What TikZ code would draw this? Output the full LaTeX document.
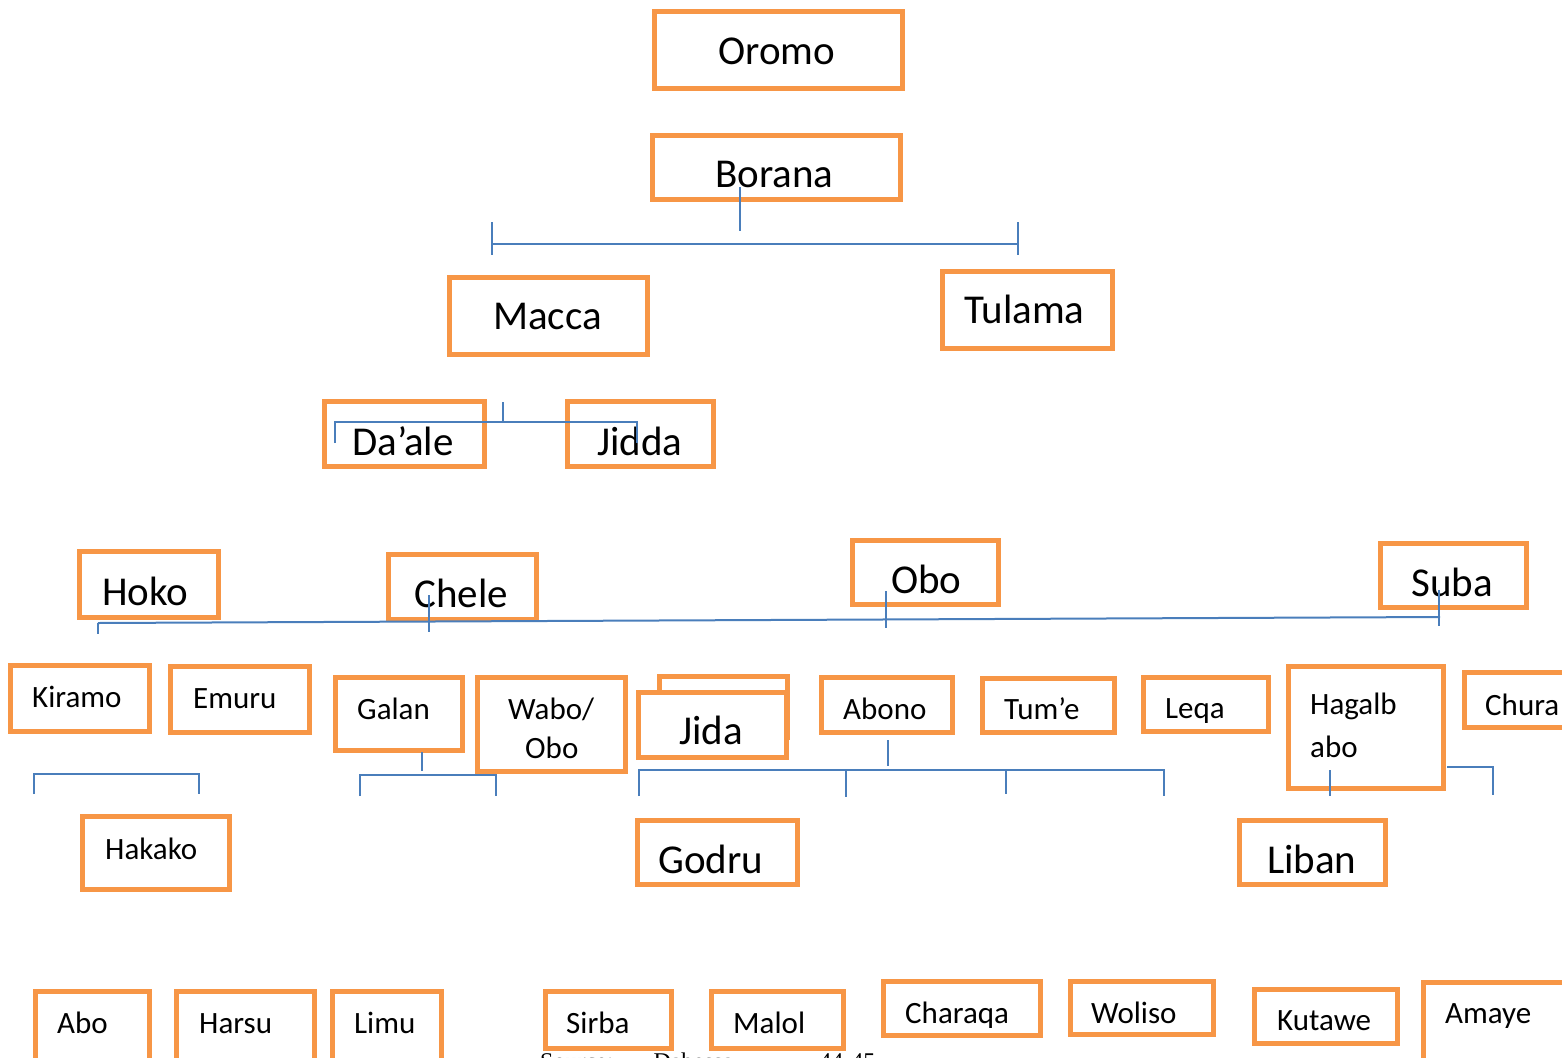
\documentclass[tikz,border=0pt]{standalone}
\usepackage{fontspec}
\setmainfont{Carlito}
\newfontfamily\srcfont{Liberation Serif}
\definecolor{boxor}{HTML}{F79646}
\definecolor{lnblue}{HTML}{4A7EBB}
\tikzset{
  bx/.style={draw=boxor, line width=5pt, inner sep=0pt, outer sep=0pt},
  big/.style={font=\fontsize{41}{49}\selectfont, anchor=base west, inner sep=0pt},
  small/.style={font=\fontsize{31}{37}\selectfont, anchor=base west, inner sep=0pt},
  ln/.style={draw=lnblue, line width=2pt},
}
\newcommand\bxn[6][]{\node[bx, #1, minimum width={#5-#3-5}, minimum height={#6-#4-5}] (#2) at ({(#3+#5)/2},{(#4+#6)/2}) {};}
\newcommand\txt[5]{\node[#1] (#2) at (#3,#4) {#5};}
\begin{document}
\begin{tikzpicture}[x=1pt,y=-1pt]
\useasboundingbox (0,0) rectangle (1562,1057);
\clip (0,0) rectangle (1562,1057);
% boxes
\bxn{oromo}{652}{9}{905}{91}
\bxn{borana}{650}{133}{903}{202}
\bxn{macca}{447}{275}{650}{357}
\bxn{tulama}{940}{269}{1115}{351}
\bxn{daale}{322}{399}{487}{469}
\bxn{jidda}{565}{399}{716}{469}
\bxn{hoko}{77}{549}{221}{620}
\bxn{chele}{386}{552}{539}{622}
\bxn{obo}{850}{538}{1001}{607}
\bxn{suba}{1378}{541}{1529}{610}
\bxn{kiramo}{8}{663}{152}{734}
\bxn{emuru}{168}{664}{312}{735}
\bxn{galan}{333}{675}{465}{753}
\bxn{wabo}{475}{675}{628}{774}
\bxn{jidaback}{657}{674}{790}{740}
\bxn[fill=white]{jida}{636}{690}{789}{760}
\bxn{abono}{819}{675}{955}{735}
\bxn{tume}{980}{676}{1117}{735}
\bxn{leqa}{1141}{675}{1271}{734}
\bxn{hagal}{1286}{664}{1446}{791}
\bxn{chura}{1462}{670}{1575}{730}
\bxn{hakako}{80}{814}{232}{892}
\bxn{godru}{635}{818}{800}{887}
\bxn{liban}{1237}{818}{1388}{887}
\bxn{abo}{33}{989}{152}{1070}
\bxn{harsu}{174}{989}{317}{1070}
\bxn{limu}{330}{989}{444}{1070}
\bxn{sirba}{543}{989}{674}{1051}
\bxn{malol}{709}{989}{846}{1051}
\bxn{charaqa}{881}{979}{1043}{1038}
\bxn{woliso}{1068}{979}{1216}{1037}
\bxn{kutawe}{1252}{987}{1400}{1046}
\bxn{amaye}{1421}{980}{1575}{1070}
% texts
\txt{big}{tOromo}{718}{64}{Oromo}
\txt{big}{tBorana}{715}{187}{Borana}
\txt{big}{tMacca}{493}{329}{Macca}
\txt{big}{tTulama}{964}{323}{Tulama}
\txt{big}{tDaale}{352}{455}{Da’ale}
\txt{big}{tJidda}{597}{455}{Jidda}
\txt{big}{tHoko}{102}{605}{Hoko}
\txt{big}{tChele}{414}{607}{Chele}
\txt{big}{tObo}{891}{593}{Obo}
\txt{big}{tSuba}{1411}{596}{Suba}
\txt{small}{tKiramo}{32}{707}{Kiramo}
\txt{small}{tEmuru}{193}{708}{Emuru}
\txt{small}{tGalan}{357}{719}{Galan}
\txt{small}{tWabo}{508}{719}{Wabo/}
\txt{small}{tWObo}{525}{758}{Obo}
\txt{big}{tJida}{679}{744}{Jida}
\txt{small}{tAbono}{843}{719}{Abono}
\txt{small}{tTume}{1004}{719}{Tum’e}
\txt{small}{tLeqa}{1165}{718}{Leqa}
\txt{small}{tHagalb}{1310}{714}{Hagalb}
\txt{small}{tHabo}{1310}{757}{abo}
\txt{small}{tChura}{1485}{715}{Chura}
\txt{small}{tHakako}{105}{859}{Hakako}
\txt{big}{tGodru}{658}{873}{Godru}
\txt{big}{tLiban}{1267}{873}{Liban}
\txt{small}{tAbo}{57}{1033}{Abo}
\txt{small}{tHarsu}{199}{1033}{Harsu}
\txt{small}{tLimu}{354}{1033}{Limu}
\txt{small}{tSirba}{566}{1033}{Sirba}
\txt{small}{tMalol}{733}{1033}{Malol}
\txt{small}{tCharaqa}{905}{1023}{Charaqa}
\txt{small}{tWoliso}{1091}{1023}{Woliso}
\txt{small}{tKutawe}{1277}{1030}{Kutawe}
\txt{small}{tAmaye}{1445}{1023}{Amaye}
\node[anchor=base west, inner sep=0pt, font=\srcfont\fontsize{24}{28}\selectfont] (src) at (540,1069) {Source:\hspace{40pt}Dabessa,\hspace{80pt}44-45};
% connectors
\coordinate (b1) at (740,187); \coordinate (b2) at (740,231);
\draw[ln] (b1) -- (b2);
\draw[ln] (492,244) -- (1018,244);
\draw[ln] (492,222) -- (492,255);
\draw[ln] (1018,222) -- (1018,255);
\draw[ln] (503,402) -- (503,422);
\draw[ln] (335,443) -- (335,422) -- (637,422) -- (637,443);
\draw[ln] (98,623) -- (1440,617);
\draw[ln] (98,623) -- (98,634);
\draw[ln] (429,595) -- (429,632);
\draw[ln] (886,591) -- (886,628);
\draw[ln] (1439,590) -- (1439,626);
\draw[ln] (34,794) -- (34,774) -- (199,774) -- (199,794);
\draw[ln] (422,752) -- (422,771);
\draw[ln] (360,796) -- (360,775) -- (496,775) -- (496,796);
\draw[ln] (888,740) -- (888,766);
\draw[ln] (639,796) -- (639,770) -- (1164,770) -- (1164,796);
\draw[ln] (846,770) -- (846,797);
\draw[ln] (1006,770) -- (1006,794);
\draw[ln] (1330,770) -- (1330,796);
\draw[ln] (1447,767) -- (1493,767) -- (1493,795);
\end{tikzpicture}
\end{document}
